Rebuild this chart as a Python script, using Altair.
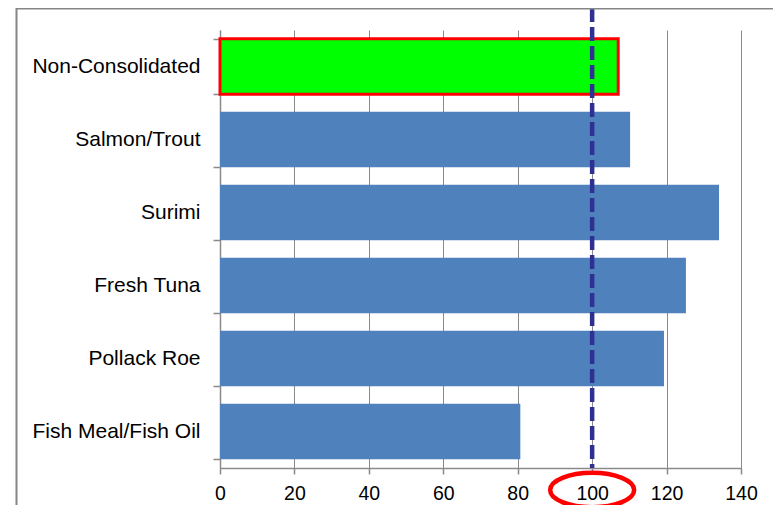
import altair as alt
import pandas as pd

categories = ["Non-Consolidated", "Salmon/Trout", "Surimi", "Fresh Tuna", "Pollack Roe", "Fish Meal/Fish Oil"]
values = [107.0, 110.2, 134.1, 125.2, 119.3, 80.7]
groups = ["highlight", "normal", "normal", "normal", "normal", "normal"]
x_ticks = [0, 20, 40, 60, 80, 100, 120, 140]
reference_value = [100]

W, H = 521, 438
FONT = "Liberation Sans"
GRAY = "#8a8a8a"

df = pd.DataFrame({"category": categories, "value": values, "group": groups})
ref = pd.DataFrame({"ref": reference_value})

xscale = alt.Scale(domain=[0, 140], nice=False, zero=True)

bars = alt.Chart(df).mark_bar(strokeWidth=3).encode(
    x=alt.X("value:Q", scale=xscale,
            axis=alt.Axis(values=x_ticks, title=None, grid=True, gridColor=GRAY, gridWidth=1,
                          domainColor=GRAY, domainWidth=1.5, tickColor=GRAY, tickSize=6, tickWidth=1.5,
                          labelFont=FONT, labelFontSize=19.5, labelColor="#000000", labelPadding=10,
                          labelFlush=False)),
    y=alt.Y("category:N", sort=categories,
            scale=alt.Scale(paddingInner=0.24, paddingOuter=0.12),
            axis=alt.Axis(title=None, grid=False, tickBand="extent", domainColor=GRAY, domainWidth=1.5,
                          tickColor=GRAY, tickSize=7, tickWidth=1.5, labelFont=FONT, labelFontSize=21,
                          labelColor="#000000", labelPadding=13, labelLimit=300)),
    color=alt.Color("group:N", scale=alt.Scale(domain=["highlight", "normal"], range=["#00FF00", "#4F81BD"]),
                    legend=None),
    stroke=alt.condition(alt.datum.group == "highlight", alt.value("#FF0000"), alt.value("transparent")),
)

rule = alt.Chart(ref).mark_rule(color="#2E3192", strokeWidth=4.5, strokeDash=[14, 5]).encode(
    x=alt.X("ref:Q", scale=xscale),
    y=alt.value(-22),
    y2=alt.value(H),
)

ellipse_path = "M -1 0 A 1 0.41 0 1 0 1 0 A 1 0.41 0 1 0 -1 0 Z"
ellipse = alt.Chart(ref).mark_point(shape=ellipse_path, size=84 * 84, filled=False, stroke="#FF0000",
                                    strokeWidth=4.5, opacity=1).encode(
    x=alt.X("ref:Q", scale=xscale),
    y=alt.value(H + 22),
)

one = alt.Data(values=[{"a": 1}])
top_border = alt.Chart(one).mark_rule(color="#868686", strokeWidth=2).encode(
    x=alt.value(-204), x2=alt.value(W + 40), y=alt.value(-21.5)
)
left_border = alt.Chart(one).mark_rule(color="#868686", strokeWidth=2).encode(
    x=alt.value(-203.5), y=alt.value(-22), y2=alt.value(H + 40)
)

chart = alt.layer(bars, rule, ellipse, top_border, left_border).properties(
    width=W, height=H,
    autosize=alt.AutoSizeParams(type="none"),
    padding={"left": 212, "top": 22, "right": 32, "bottom": 37},
    background="#FFFFFF",
).configure_view(stroke="transparent")

chart.save("out.html", embed_options={"renderer": "svg", "actions": False})
